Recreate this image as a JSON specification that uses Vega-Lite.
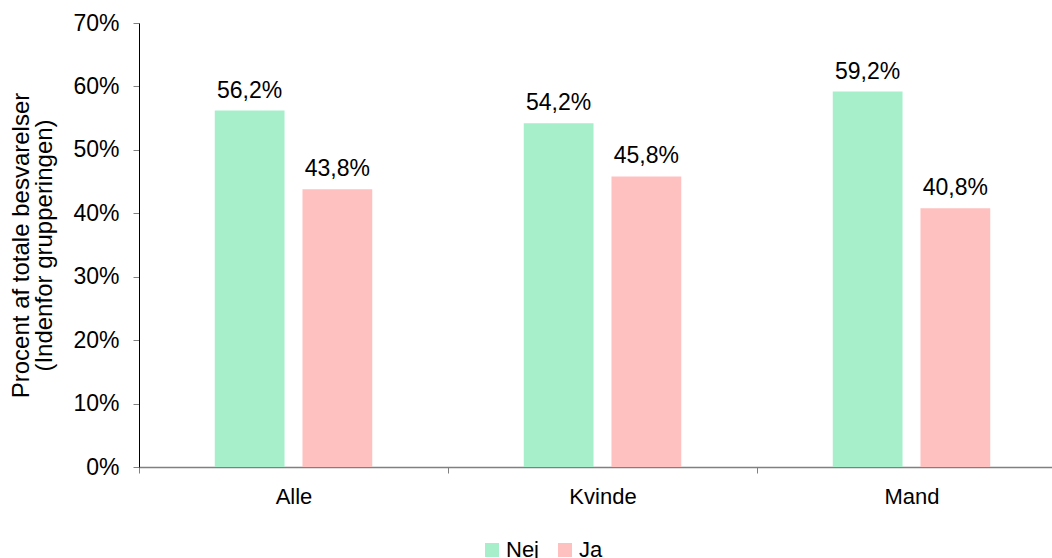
{
  "$schema": "https://vega.github.io/schema/vega-lite/v6.json",
  "autosize": {"type": "none"},
  "width": 927,
  "height": 444,
  "padding": {"left": 139, "top": 23, "right": 0, "bottom": 91},
  "background": "white",
  "config": {
    "font": "Liberation Sans",
    "view": {"stroke": null}
  },
  "data": {
    "values": [
      {"gruppe": "Alle", "svar": "Nej", "pct": 56.2},
      {"gruppe": "Alle", "svar": "Ja", "pct": 43.8},
      {"gruppe": "Kvinde", "svar": "Nej", "pct": 54.2},
      {"gruppe": "Kvinde", "svar": "Ja", "pct": 45.8},
      {"gruppe": "Mand", "svar": "Nej", "pct": 59.2},
      {"gruppe": "Mand", "svar": "Ja", "pct": 40.8}
    ]
  },
  "transform": [
    {"calculate": "replace(format(datum.pct, '.1f'), '.', ',') + '%'", "as": "label"}
  ],
  "encoding": {
    "x": {
      "field": "gruppe", "type": "nominal", "sort": ["Alle", "Kvinde", "Mand"],
      "scale": {"paddingInner": 0, "paddingOuter": 0},
      "axis": {
        "title": null, "labelAngle": 0, "labelFontSize": 22, "labelColor": "#000",
        "labelPadding": 13, "domainColor": "#808080", "tickColor": "#808080",
        "tickBand": "extent", "tickSize": 6, "domainWidth": 1.5
      }
    },
    "xOffset": {
      "field": "svar", "type": "nominal", "sort": ["Nej", "Ja"],
      "scale": {"paddingInner": 0.2045, "paddingOuter": 0.8636}
    },
    "y": {
      "field": "pct", "type": "quantitative",
      "scale": {"domain": [0, 70]},
      "axis": {
        "title": ["Procent af totale besvarelser", "(Indenfor grupperingen)"],
        "titleFontSize": 24, "titleFontWeight": "normal", "titleColor": "#000",
        "titlePadding": 16, "titleLineHeight": 23,
        "values": [0, 10, 20, 30, 40, 50, 60, 70],
        "labelExpr": "datum.value + '%'",
        "labelFontSize": 23, "labelColor": "#000", "labelPadding": 14,
        "grid": false, "domainColor": "#000", "tickColor": "#808080", "tickSize": 6
      }
    }
  },
  "layer": [
    {
      "mark": {"type": "bar"},
      "encoding": {
        "color": {
          "field": "svar", "type": "nominal",
          "scale": {"domain": ["Nej", "Ja"], "range": ["#A6EFCA", "#FFC0C0"]},
          "legend": {
            "title": null, "orient": "none", "direction": "horizontal",
            "legendX": 342, "legendY": 516,
            "symbolType": "square", "symbolSize": 196, "symbolStrokeWidth": 0,
            "labelFontSize": 22, "labelColor": "#000", "labelOffset": 3, "columnPadding": 14
          }
        }
      }
    },
    {
      "mark": {"type": "text", "baseline": "alphabetic", "dy": -13, "fontSize": 23, "color": "#000"},
      "encoding": {"text": {"field": "label"}}
    }
  ]
}
